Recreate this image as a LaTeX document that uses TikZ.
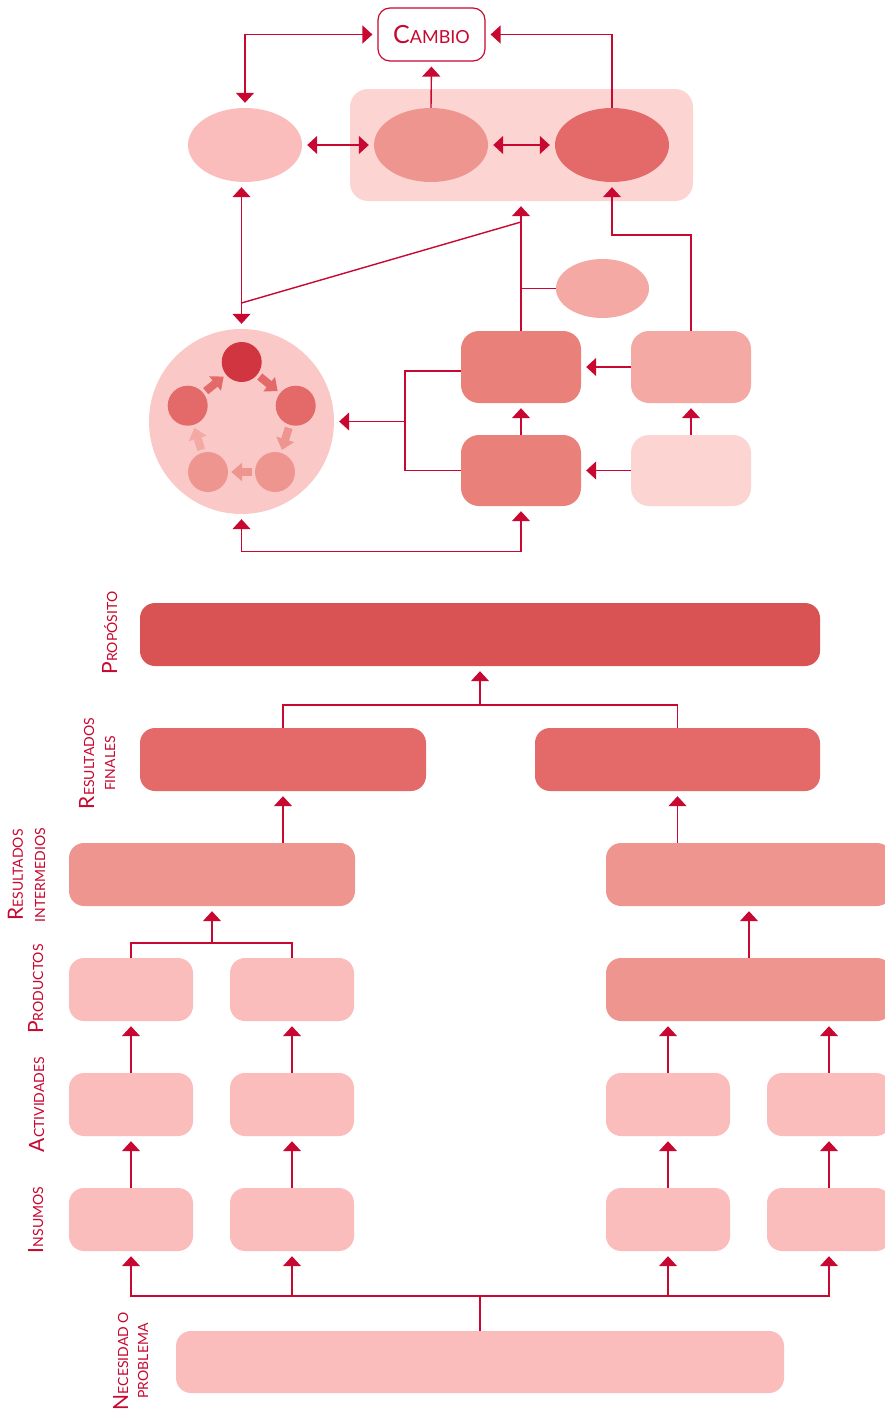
\documentclass[tikz,border=0pt]{standalone}
\usepackage{fontspec}
\setmainfont{Lato}
\usetikzlibrary{arrows.meta,shapes.geometric}

\definecolor{crim}{RGB}{200,8,48}
\definecolor{pkA}{HTML}{FBBDBB}
\definecolor{pkBg}{HTML}{FCD5D3}
\definecolor{pkCirc}{HTML}{FAC9C7}
\definecolor{salm}{HTML}{EF9590}
\definecolor{salmL}{HTML}{F4A9A4}
\definecolor{salmD}{HTML}{E98079}
\definecolor{coral}{HTML}{E36A69}
\definecolor{rose}{HTML}{D95254}
\definecolor{ruby}{HTML}{D13540}

% fake small caps: large initial, smaller capitals
\newcommand\capL[1]{{\fontsize{21}{22}\selectfont #1}}
\newcommand\capS[1]{{\fontsize{14}{22}\selectfont #1}}

\begin{document}
\begin{tikzpicture}[x=1pt,y=-1pt,
  conn/.style={draw=crim, line width=1.4pt},
  arr/.style={conn, -{Triangle[width=18pt,length=10pt]}, shorten >=5pt},
  arrb/.style={conn, {Triangle[width=18pt,length=10pt]}-{Triangle[width=18pt,length=10pt]}, shorten >=5pt, shorten <=5pt},
  bx/.style={rectangle, rounded corners=15pt, inner sep=0pt, draw=none},
  tbx/.style={bx, rounded corners=18pt, minimum width=120pt, minimum height=72pt},
  sbx/.style={bx, fill=pkA, minimum width=124pt, minimum height=63pt},
  wbx/.style={bx, minimum width=286pt, minimum height=63pt},
  ov/.style={ellipse, inner sep=0pt, draw=none, minimum width=114pt, minimum height=74pt},
  dot/.style={circle, inner sep=0pt, minimum size=40pt, draw=none},
  spin/.style={line width=8pt, -{Triangle[width=18pt,length=11pt]}, shorten <=3pt, shorten >=3pt},
  lbl/.style={text=crim, rotate=90, anchor=base, inner sep=0pt},
]
\fill[white] (0,0) rectangle (885,1413);
\clip (0,0) rectangle (885,1413);

% ---------- upper cycle ----------
\node[bx, rounded corners=18pt, fill=pkBg, minimum width=343pt, minimum height=112pt] (bg) at (521.5,145) {};
\node[ov, fill=pkA] (e1) at (245,145) {};
\node[ov, fill=salm] (e2) at (431,145) {};
\node[ov, fill=coral] (e3) at (612,145) {};
\node[bx, rounded corners=12pt, draw=crim, line width=1.2pt, fill=white,
      minimum width=107pt, minimum height=53pt, text=crim] (cambio) at (431.5,34.5)
      {{\fontsize{25}{25}\selectfont C}{\fontsize{18}{18}\selectfont AMBIO}};

\node[ov, fill=salmL, minimum width=93pt, minimum height=59pt] (sme) at (602.5,288.5) {};
\node[tbx, fill=salmD] (bm1) at (521,367) {};
\node[tbx, fill=salmD, minimum height=71pt] (bm2) at (521,470.5) {};
\node[tbx, fill=salmL] (br1) at (691,367) {};
\node[tbx, fill=pkBg, minimum height=71pt] (br2) at (691,470.5) {};

\node[circle, inner sep=0pt, minimum size=185pt, fill=pkCirc] (circ) at (241.5,421.5) {};
\node[dot, fill=ruby] (c1) at (241.7,362) {};
\node[dot, fill=coral] (c2) at (295.7,405.7) {};
\node[dot, fill=salm] (c3) at (275,472) {};
\node[dot, fill=salm] (c4) at (208,472) {};
\node[dot, fill=coral] (c5) at (187.7,405.7) {};
\draw[spin, coral] (c1) -- (c2);
\draw[spin, salm] (c2) -- (c3);
\draw[spin, salm] (c3) -- (c4);
\draw[spin, salmL] (c4) -- (c5);
\draw[spin, coral] (c5) -- (c1);

\draw[arrb] (cambio.west) -| (e1.north);
\draw[arr] (e2.north) -- (cambio.south);
\draw[arr] (e3.north) |- (cambio.east);
\draw[arrb] (e1.east) -- (e2.west);
\draw[arrb] (e2.east) -- (e3.west);
\draw[arrb] (e1.south -| circ.north) -- (circ.north);

\coordinate (dj) at (521,222);
\coordinate (dk) at (241.5,303);
\draw[conn] (dj) -- (dk);
\draw[arr] (bm1.north) -- (bm1.north |- bg.south);
\draw[conn] (bm1.north |- sme.west) -- (sme.west);
\draw[arr] (br1.north) -- ++(0,-96) -| (e3.south);

\draw[arr] (br1.west) -- (bm1.east);
\draw[arr] (br2.west) -- (bm2.east);
\draw[arr] (bm2.north) -- (bm1.south);
\draw[arr] (br2.north) -- (br1.south);

\coordinate (bj) at (405,421.5);
\draw[conn] ([yshift=-4pt]bm1.west) -| (bj) |- (bm2.west);
\draw[arr] (bj) -- (circ.east);
\draw[arrb] (circ.south) -- ++(0,37) -| (bm2.south);

% ---------- results chain ----------
\node[bx, fill=rose, minimum width=680pt, minimum height=63pt] (prop) at (480,634.5) {};
\node[wbx, fill=coral] (rf1) at (283,759.5) {};
\node[wbx, fill=coral, minimum width=285pt] (rf2) at (677.5,759.5) {};
\node[wbx, fill=salm] (ri1) at (212,874.5) {};
\node[wbx, fill=salm] (ri2) at (749,874.5) {};
\node[sbx] (p1) at (131,989.5) {};
\node[sbx] (p2) at (292,989.5) {};
\node[wbx, fill=salm] (p3) at (749,989.5) {};
\node[sbx] (a1) at (131,1104.5) {};
\node[sbx] (a2) at (292,1104.5) {};
\node[sbx] (a3) at (668,1104.5) {};
\node[sbx] (a4) at (829,1104.5) {};
\node[sbx] (i1) at (131,1219.5) {};
\node[sbx] (i2) at (292,1219.5) {};
\node[sbx] (i3) at (668,1219.5) {};
\node[sbx] (i4) at (829,1219.5) {};
\node[bx, fill=pkA, minimum width=608pt, minimum height=62pt] (nec) at (480,1362) {};

\coordinate (pj) at (480,705);
\draw[conn] (rf1.north) |- (pj) -| (rf2.north);
\draw[arr] (pj) -- (prop.south);
\draw[arr] (rf1.south |- ri1.north) -- (rf1.south);
\draw[arr] (rf2.south |- ri2.north) -- (rf2.south);
\coordinate (lj) at (212,943);
\draw[conn] (p1.north) |- (lj) -| (p2.north);
\draw[arr] (lj) -- (ri1.south);
\draw[arr] (p3.north) -- (ri2.south);
\draw[arr] (a1.north) -- (p1.south);
\draw[arr] (a2.north) -- (p2.south);
\draw[arr] (a3.north) -- (a3.north |- p3.south);
\draw[arr] (a4.north) -- (a4.north |- p3.south);
\draw[arr] (i1.north) -- (a1.south);
\draw[arr] (i2.north) -- (a2.south);
\draw[arr] (i3.north) -- (a3.south);
\draw[arr] (i4.north) -- (a4.south);
\coordinate (nj) at (480,1296);
\draw[conn] (nec.north) -- (nj);
\draw[arr] (nj) -| (i1.south);
\draw[arr] (nj) -| (i2.south);
\draw[arr] (nj) -| (i3.south);
\draw[arr] (nj) -| (i4.south);

% ---------- level labels ----------
\node[lbl] (lprop) at (117,633) {\capL{P}\capS{ROPÓSITO}};
\node[lbl] (lfin1) at (94,763.5) {\capL{R}\capS{ESULTADOS}};
\node[lbl] (lfin2) at (115,763.5) {\capS{FINALES}};
\node[lbl] (lint1) at (23,875) {\capL{R}\capS{ESULTADOS}};
\node[lbl] (lint2) at (45,875) {\capS{INTERMEDIOS}};
\node[lbl] (lprod) at (43,989) {\capL{P}\capS{RODUCTOS}};
\node[lbl] (lact) at (44,1104.5) {\capL{A}\capS{CTIVIDADES}};
\node[lbl] (lins) at (43,1220) {\capL{I}\capS{NSUMOS}};
\node[lbl] (lnec1) at (128,1361) {\capL{N}\capS{ECESIDAD O}};
\node[lbl] (lnec2) at (148,1361) {\capS{PROBLEMA}};
\end{tikzpicture}
\end{document}
